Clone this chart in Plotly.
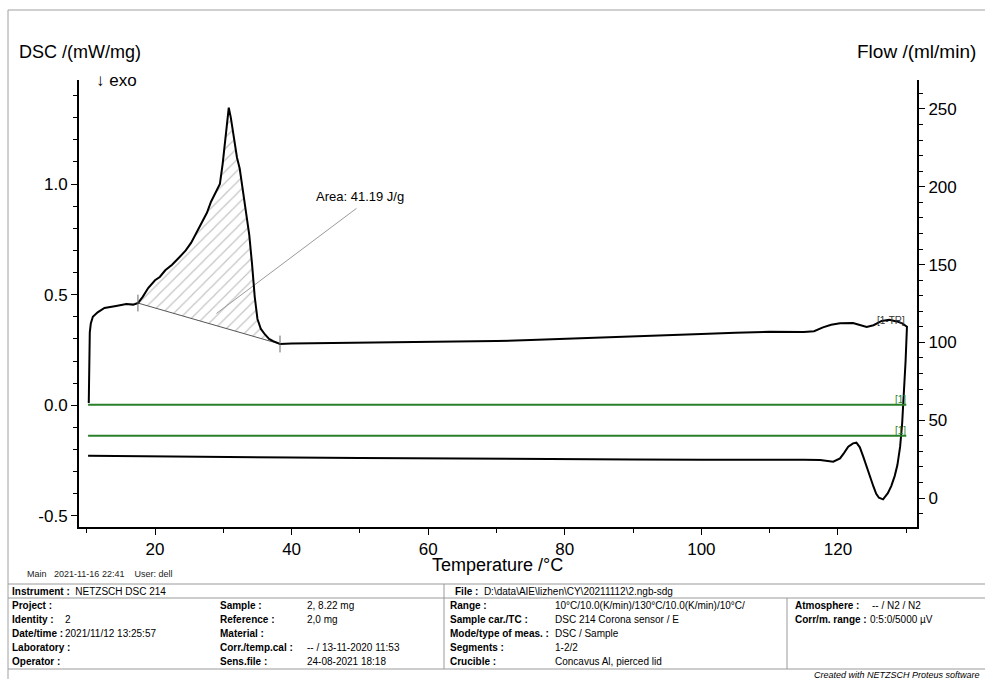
import plotly.graph_objects as go

# ---------------- data ----------------
# DSC heating segment (T in °C, DSC in mW/mg)
heat_T = [10.3, 10.33, 10.38, 10.45, 10.6, 10.9, 11.6, 12.6, 14.3, 15.8, 16.8, 17.5,
          18.2, 19.0, 20.0, 20.7, 21.5, 22.5, 23.6, 24.5, 25.3, 26.1, 27.0, 27.6,
          28.2, 28.7, 29.2, 29.5, 29.9, 30.2, 30.5, 30.8, 31.1, 31.5, 32.0, 32.4,
          33.0, 33.4, 33.8, 34.2, 34.6, 35.0, 35.5, 36.1, 36.7, 37.3, 38.3,
          40, 45, 50, 55, 60, 65, 70, 75, 80, 85, 90, 95, 100, 105, 110, 115,
          116.5, 117.8, 119.0, 120.3, 121.3, 122.2, 123.2, 124.2, 125.2, 126.4,
          127.5, 128.6, 129.4, 129.8, 130.1]
heat_v = [0.01, 0.12, 0.24, 0.33, 0.37, 0.40, 0.42, 0.44, 0.449, 0.458, 0.455, 0.462,
          0.49, 0.53, 0.565, 0.58, 0.61, 0.635, 0.67, 0.70, 0.735, 0.78, 0.83, 0.87,
          0.92, 0.95, 0.975, 1.00, 1.09, 1.17, 1.25, 1.345, 1.30, 1.21, 1.12, 1.07,
          0.95, 0.87, 0.77, 0.64, 0.49, 0.39, 0.345, 0.32, 0.30, 0.29, 0.277,
          0.279, 0.281, 0.283, 0.285, 0.286, 0.287, 0.29, 0.295, 0.300, 0.304, 0.310,
          0.316, 0.322, 0.328, 0.332, 0.331,
          0.335, 0.352, 0.364, 0.371, 0.373, 0.372, 0.363, 0.354, 0.362, 0.381,
          0.386, 0.379, 0.37, 0.363, 0.355]

# DSC cooling segment (130 °C -> 10 °C)
cool_T = [130.1, 129.9, 129.6, 129.4, 129.1, 128.7, 128.3, 127.8, 127.3, 126.6,
          126.0, 125.6, 125.2, 124.7, 124.2, 123.7, 123.2, 122.7, 122.2, 121.5,
          120.9, 120.3, 119.3, 118.3, 117.4, 115, 110, 100, 90, 80, 70, 60, 50,
          40, 30, 20, 10.2]
cool_v = [0.355, 0.20, 0.024, -0.08, -0.187, -0.27, -0.32, -0.365, -0.397, -0.425,
          -0.418, -0.40, -0.368, -0.32, -0.27, -0.232, -0.19, -0.169, -0.172, -0.187,
          -0.215, -0.24, -0.255, -0.25, -0.247, -0.246, -0.247, -0.246, -0.245, -0.244,
          -0.242, -0.240, -0.238, -0.236, -0.234, -0.231, -0.228]

# Purge gas flow curves (ml/min)
flow_T = [10.2, 130.0]
flow1 = [60, 60]
flow2 = [40, 40]

# Peak integration limits and result
peak_start = (17.5, 0.462)
peak_end = (38.3, 0.277)
area_label = "Area: 41.19 J/g"

x_ticks = [20, 40, 60, 80, 100, 120]
y_ticks = [-0.5, 0.0, 0.5, 1.0]
y_ticktext = ["-0.5", "0.0", "0.5", "1.0"]
y2_ticks = [0, 50, 100, 150, 200, 250]

# ---------------- layout helpers ----------------
W, H = 985, 679
L, R, T, B = 79, 917, 80, 527
FONT = "Liberation Sans, Arial, sans-serif"


def px(x):
    return (x - L) / (R - L)


def py(y):
    return (B - y) / (B - T)


fig = go.Figure()

# hatched peak area
poly_T = [t for t in heat_T if peak_start[0] <= t <= peak_end[0]]
poly_v = [v for t, v in zip(heat_T, heat_v) if peak_start[0] <= t <= peak_end[0]]
fig.add_trace(go.Scatter(
    x=poly_T + [peak_start[0]], y=poly_v + [peak_start[1]],
    mode="lines", fill="toself", line=dict(width=0, color="rgba(0,0,0,0)"),
    fillcolor="white",
    fillpattern=dict(shape="/", fgcolor="#8a8a8a", bgcolor="white", size=8, solidity=0.15),
    hoverinfo="skip"))

# baseline of integration
fig.add_trace(go.Scatter(x=[peak_start[0], peak_end[0]], y=[peak_start[1], peak_end[1]],
                         mode="lines", line=dict(color="#555555", width=1)))

# leader line for area label
fig.add_trace(go.Scatter(x=[49.5, 29.0], y=[0.89, 0.415], mode="lines",
                         line=dict(color="#9a9a9a", width=1)))

# flow curves
fig.add_trace(go.Scatter(x=flow_T, y=flow1, yaxis="y2", mode="lines",
                         line=dict(color="#2a7f2a", width=2)))
fig.add_trace(go.Scatter(x=flow_T, y=flow2, yaxis="y2", mode="lines",
                         line=dict(color="#2a7f2a", width=2)))

# DSC curve
fig.add_trace(go.Scatter(x=heat_T + cool_T, y=heat_v + cool_v, mode="lines",
                         line=dict(color="black", width=2)))

# integration limit markers
fig.add_trace(go.Scatter(x=[peak_start[0], peak_end[0]], y=[peak_start[1], peak_end[1]],
                         mode="markers",
                         marker=dict(symbol="line-ns", size=12, line=dict(color="#666666", width=1))))

annotations = []


def txt(x, y, s, size, color="black", anchor="left", bold=False, italic=False, **kw):
    if bold:
        s = "<b>" + s + "</b>"
    if italic:
        s = "<i>" + s + "</i>"
    annotations.append(dict(xref="paper", yref="paper", x=px(x), y=py(y), text=s,
                            showarrow=False, xanchor=anchor, yanchor="middle",
                            font=dict(family=FONT, size=size, color=color), **kw))


# axis titles & labels
txt(17, 52, "DSC /(mW/mg)", 18)
txt(978, 52, "Flow /(ml/min)", 19, anchor="right")
txt(94, 80, "↓ exo", 17)
txt(497, 565, "Temperature /°C", 18, anchor="center")

# in-plot annotations (data coords)
annotations.append(dict(x=50.0, y=0.945, xref="x", yref="y", text=area_label, showarrow=False,
                        xanchor="center", yanchor="middle",
                        font=dict(family=FONT, size=13, color="black")))
annotations.append(dict(x=127.7, y=0.382, xref="x", yref="y", text="[1-TR]", showarrow=False,
                        xanchor="center", yanchor="middle",
                        font=dict(family=FONT, size=10, color="#333333")))
annotations.append(dict(x=129.1, y=63.5, xref="x", yref="y2", text="[1]", showarrow=False,
                        xanchor="center", yanchor="middle",
                        font=dict(family=FONT, size=10, color="#2a7f2a")))
annotations.append(dict(x=129.1, y=43.5, xref="x", yref="y2", text="[1]", showarrow=False,
                        xanchor="center", yanchor="middle",
                        font=dict(family=FONT, size=10, color="#2a7f2a")))

# info line
txt(25, 574, "Main&nbsp;&nbsp;&nbsp;2021-11-16 22:41&nbsp;&nbsp;&nbsp;&nbsp;User: dell", 9, color="#222222")

# table
TS = 10
txt(10, 591, "<b>Instrument :</b>  NETZSCH DSC 214", TS)
txt(453, 591, "<b>File :</b>  D:\\data\\AIE\\lizhen\\CY\\20211112\\2.ngb-sdg", TS)

rows_y = [605, 619, 633, 647, 661]
col1_lab = ["Project :", "Identity :", "Date/time :", "Laboratory :", "Operator :"]
col1_val = ["", "2", "2021/11/12 13:25:57", "", ""]
col2_lab = ["Sample :", "Reference :", "Material :", "Corr./temp.cal :", "Sens.file :"]
col2_val = ["2, 8.22 mg", "2,0 mg", "", "-- / 13-11-2020 11:53", "24-08-2021 18:18"]
col3_lab = ["Range :", "Sample car./TC :", "Mode/type of meas. :", "Segments :", "Crucible :"]
col3_val = ["10°C/10.0(K/min)/130°C/10.0(K/min)/10°C/", "DSC 214 Corona sensor / E",
            "DSC / Sample", "1-2/2", "Concavus Al, pierced lid"]
col4_lab = ["Atmosphere :", "Corr/m. range :"]
col4_val = ["-- / N2 / N2", "0:5:0/5000 µV"]

for i, y in enumerate(rows_y):
    txt(10, y, col1_lab[i], TS, bold=True)
    if col1_val[i]:
        txt(63, y, col1_val[i], TS)
    txt(218, y, col2_lab[i], TS, bold=True)
    if col2_val[i]:
        txt(305, y, col2_val[i], TS)
    txt(448, y, col3_lab[i], TS, bold=True)
    txt(553, y, col3_val[i], TS)
for i in range(2):
    txt(793, rows_y[i], col4_lab[i], TS, bold=True)
    txt(870 if i == 0 else 868, rows_y[i], col4_val[i], TS)

txt(982, 675, "Created with NETZSCH Proteus software", 9, italic=True, anchor="right")

shapes = []


def hline(y, x0, x1, color="#9a9a9a", w=1):
    shapes.append(dict(type="line", xref="paper", yref="paper", x0=px(x0), x1=px(x1),
                       y0=py(y), y1=py(y), line=dict(color=color, width=w)))


def vline(x, y0, y1, color="#9a9a9a", w=1):
    shapes.append(dict(type="line", xref="paper", yref="paper", x0=px(x), x1=px(x),
                       y0=py(y0), y1=py(y1), line=dict(color=color, width=w)))


# outer frame
hline(10, 8, 985, "#a0a0a0")
vline(8, 10, 679, "#a0a0a0")
# table grid
hline(584, 8, 985)
hline(598, 8, 985)
hline(669, 8, 985)
vline(444, 584, 669)
vline(787, 598, 669)

axis_common = dict(showgrid=False, zeroline=False, showline=True, linecolor="black",
                   linewidth=2, ticks="outside", ticklen=6, tickwidth=1, tickcolor="black",
                   tickfont=dict(family=FONT, size=17, color="black"))

fig.update_layout(
    width=W, height=H,
    margin=dict(l=L, r=W - R, t=T, b=H - B),
    paper_bgcolor="white", plot_bgcolor="white",
    showlegend=False,
    xaxis=dict(range=[8.87, 131.57], tickvals=x_ticks,
               minor=dict(dtick=10, tick0=0, ticklen=4, tickcolor="black", ticks="outside"),
               **axis_common),
    yaxis=dict(range=[-0.55, 1.47], tickvals=y_ticks, ticktext=y_ticktext,
               minor=dict(dtick=0.1, tick0=0, ticklen=4, tickcolor="black", ticks="outside"),
               **axis_common),
    yaxis2=dict(range=[-18.6, 268.6], tickvals=y2_ticks, overlaying="y", side="right",
                minor=dict(dtick=10, tick0=0, ticklen=4, tickcolor="black", ticks="outside"),
                **axis_common),
    annotations=annotations,
    shapes=shapes,
)

fig.write_html("out.html")
